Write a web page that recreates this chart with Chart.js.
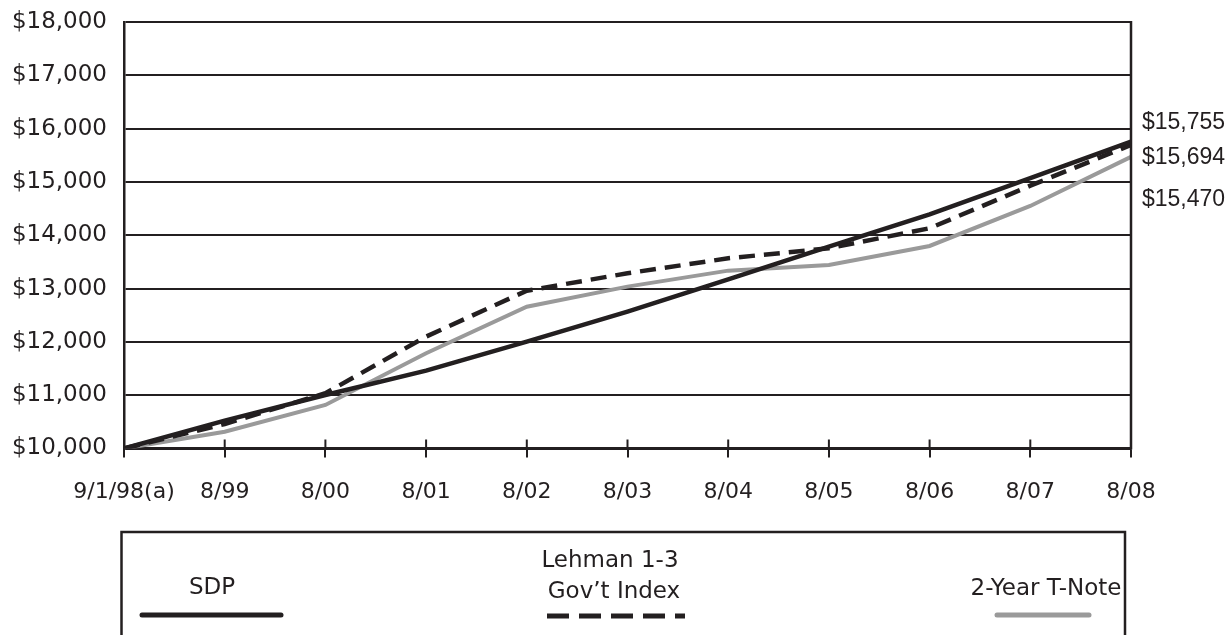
<!DOCTYPE html>
<html>
<head>
<meta charset="utf-8">
<script src="https://cdn.jsdelivr.net/npm/chart.js@4/dist/chart.umd.min.js"></script>
<style>
  html, body { margin: 0; padding: 0; background: #fff; }
  #wrap { width: 1231px; height: 635px; position: relative; }
</style>
</head>
<body>
<div id="wrap"><canvas id="growth-chart"></canvas></div>
<script>
// Period labels along the bottom axis
const periods = ['9/1/98(a)', '8/99', '8/00', '8/01', '8/02', '8/03', '8/04', '8/05', '8/06', '8/07', '8/08'];

// Growth of $10,000
const sdpValues = [10000, 10522, 11004, 11460, 12004, 12567, 13174, 13786, 14390, 15070, 15755];
const lehmanValues = [10000, 10460, 11036, 12098, 12960, 13287, 13568, 13756, 14131, 14930, 15694];
const tNoteValues = [10000, 10315, 10816, 11786, 12660, 13036, 13336, 13443, 13799, 14550, 15470];

const seriesNames = ['SDP', 'Lehman 1-3 Gov\u2019t Index', '2-Year T-Note'];
const endLabels = ['$15,755', '$15,694', '$15,470'];

const ink = '#231f20';
const grey = '#9a9a9a';

// Dollar format for the left axis
function dollars(v) {
  return '$' + v.toLocaleString('en-US');
}

// Extra drawing: cross ticks, right border, end values and the legend box
const decorations = {
  id: 'decorations',
  afterDatasetsDraw(chart) {
    const { ctx, chartArea, scales } = chart;
    const x = scales.x;
    const y = scales.y;
    ctx.save();

    // upper half of the x tick marks
    ctx.strokeStyle = ink;
    ctx.lineWidth = 2;
    periods.forEach((p, i) => {
      const px = x.getPixelForValue(i);
      ctx.beginPath();
      ctx.moveTo(px, chartArea.bottom - 9);
      ctx.lineTo(px, chartArea.bottom);
      ctx.stroke();
    });

    // right border
    ctx.lineWidth = 2.5;
    ctx.beginPath();
    ctx.moveTo(chartArea.right, chartArea.top - 1);
    ctx.lineTo(chartArea.right, chartArea.bottom + 1);
    ctx.stroke();

    // values at the end of each line
    const lasts = [sdpValues, lehmanValues, tNoteValues].map(a => a[a.length - 1]);
    const shifts = [-19, 13, 43];
    ctx.fillStyle = ink;
    ctx.font = '23px "Liberation Sans", Arial, sans-serif';
    ctx.textAlign = 'left';
    ctx.textBaseline = 'middle';
    lasts.forEach((v, i) => {
      ctx.fillText(endLabels[i], chartArea.right + 11, y.getPixelForValue(v) + shifts[i]);
    });

    // legend box
    ctx.lineWidth = 2.5;
    ctx.beginPath();
    ctx.moveTo(121.5, 640);
    ctx.lineTo(121.5, 532);
    ctx.lineTo(1125, 532);
    ctx.lineTo(1125, 640);
    ctx.stroke();

    ctx.font = '23px "DejaVu Sans", sans-serif';
    ctx.textAlign = 'center';
    ctx.fillText('SDP', 212, 588);
    ctx.fillText('Lehman 1-3', 610, 561);
    ctx.fillText('Gov\u2019t Index', 614, 592);
    ctx.fillText('2-Year T-Note', 1046, 589);

    ctx.lineCap = 'round';
    ctx.lineWidth = 5;
    ctx.strokeStyle = ink;
    ctx.beginPath();
    ctx.moveTo(142, 615);
    ctx.lineTo(281, 615);
    ctx.stroke();

    ctx.strokeStyle = grey;
    ctx.beginPath();
    ctx.moveTo(997, 615);
    ctx.lineTo(1089, 615);
    ctx.stroke();

    ctx.lineCap = 'butt';
    ctx.strokeStyle = ink;
    ctx.setLineDash([22, 10]);
    ctx.beginPath();
    ctx.moveTo(547, 616);
    ctx.lineTo(685, 616);
    ctx.stroke();

    ctx.restore();
  }
};

new Chart(document.getElementById('growth-chart'), {
  type: 'line',
  data: {
    labels: periods,
    datasets: [
      {
        label: seriesNames[0],
        data: sdpValues,
        borderColor: ink,
        borderWidth: 4.5,
        pointRadius: 0,
        tension: 0
      },
      {
        label: seriesNames[1],
        data: lehmanValues,
        borderColor: ink,
        borderWidth: 4.5,
        borderDash: [16, 9],
        pointRadius: 0,
        tension: 0
      },
      {
        label: seriesNames[2],
        data: tNoteValues,
        borderColor: grey,
        borderWidth: 4,
        pointRadius: 0,
        tension: 0
      }
    ]
  },
  options: {
    responsive: true,
    maintainAspectRatio: false,
    animation: false,
    layout: {
      padding: { top: 22, right: 100, left: 0, bottom: 0 }
    },
    scales: {
      x: {
        offset: false,
        grid: {
          drawOnChartArea: false,
          drawTicks: true,
          tickLength: 9,
          color: ink,
          lineWidth: 2
        },
        border: { display: true, color: ink, width: 2.5 },
        ticks: {
          color: ink,
          padding: 22,
          maxRotation: 0,
          autoSkip: false,
          font: { family: '"DejaVu Sans", sans-serif', size: 22 }
        },
        afterFit(scale) {
          scale.height = 186.5;
          scale.paddingLeft = 0;
          scale.paddingRight = 0;
        }
      },
      y: {
        min: 10000,
        max: 18000,
        grid: {
          color: ink,
          lineWidth: 2,
          drawTicks: false
        },
        border: { display: true, color: ink, width: 2.5 },
        ticks: {
          stepSize: 1000,
          color: ink,
          padding: 17,
          font: { family: '"DejaVu Sans", sans-serif', size: 23 },
          callback: v => dollars(v)
        },
        afterFit(scale) {
          scale.width = 124;
          scale.paddingTop = 0;
          scale.paddingBottom = 0;
        }
      }
    },
    plugins: {
      legend: { display: false },
      tooltip: { enabled: false }
    }
  },
  plugins: [decorations]
});
</script>
</body>
</html>
